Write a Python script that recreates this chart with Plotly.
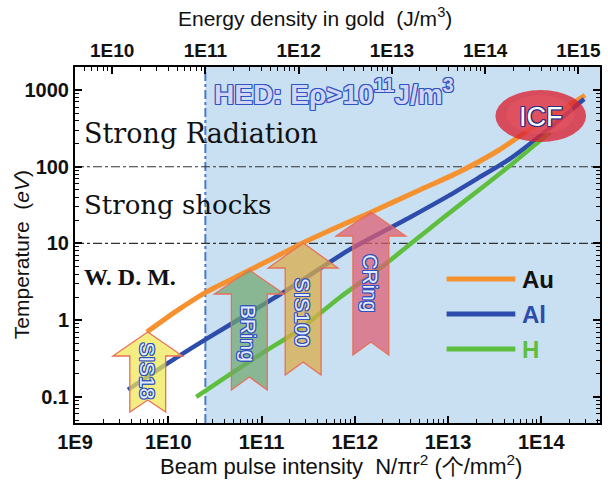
import plotly.graph_objects as go

# ---- data -------------------------------------------------------------
# beam pulse intensity N/(pi r^2) [particles/mm^2] vs. reachable temperature [eV]
au_intensity = [5.9e9, 1.23e10, 2.57e10, 5.8e10, 1.21e11, 2.73e11, 6.8e11, 1.42e12,
                4.9e12, 1.30e13, 3.5e13, 7.3e13, 1.52e14, 2.95e14]
au_temp = [0.70, 1.32, 2.34, 3.85, 6.05, 10.1, 16.8, 24.8, 49.4, 84.7, 164, 299, 513, 855]

al_intensity = [3.7e9, 1.04e10, 2.57e10, 7.4e10, 1.75e11, 8.7e11, 3.8e12, 1.01e13,
                2.12e13, 4.44e13, 7.8e13, 1.52e14, 2.88e14]
al_temp = [0.124, 0.286, 0.57, 1.24, 2.34, 8.24, 21.5, 41.7, 71.5, 123, 204, 395, 764]

h_intensity = [2.0e10, 4.5e10, 1.07e11, 2.54e11, 6.8e11, 1.95e12, 8.55e12, 2.52e13,
               5.0e13, 9.3e13, 1.25e14]
h_temp = [0.100, 0.194, 0.386, 0.748, 1.95, 4.95, 20.9, 57.9, 112, 210, 284]

series_names = ["Au", "Al", "H"]
series_colors = ["#f5922f", "#2e4cab", "#5dbf3d"]
label_colors = ["#111111", "#2e4cab", "#5dbf3d"]

x_tick_labels = ["1E9", "1E10", "1E11", "1E12", "1E13", "1E14"]
top_tick_labels = ["1E10", "1E11", "1E12", "1E13", "1E14", "1E15"]
y_tick_labels = ["0.1", "1", "10", "100", "1000"]

# energy deposited in gold per unit beam intensity, J/m^3 per (particles/mm^2)
ENERGY_PER_INTENSITY = 4.0
HED_THRESHOLD = 1e11          # J/m^3
REGIME_BOUNDS = [10, 100]     # eV

# ---- geometry ---------------------------------------------------------
W, H = 608, 483
L, R, T, B = 75, 6, 67, 60
PW, PH = W - L - R, H - T - B
X_RANGE = [9.0, 14.63]
Y_RANGE = [-1.34, 3.30]
OFFSET = 0.60206  # log10(ENERGY_PER_INTENSITY)


def px(x):
    return (x - L) / PW


def py(y):
    return (H - B - y) / PH


fig = go.Figure()

for xs, ys, name, col, lw in zip([au_intensity, al_intensity, h_intensity],
                                 [au_temp, al_temp, h_temp],
                                 series_names, series_colors, [5, 4.5, 4.5]):
    fig.add_trace(go.Scatter(x=xs, y=ys, name=name, mode="lines",
                             line=dict(color=col, width=lw, shape="spline", smoothing=0.6),
                             showlegend=False, hoverinfo="skip"))

shapes = []
thr = HED_THRESHOLD / ENERGY_PER_INTENSITY
# HED region
shapes.append(dict(type="rect", xref="x", yref="paper", x0=thr, x1=10 ** X_RANGE[1],
                   y0=0, y1=1, fillcolor="#c9dff2", line=dict(width=0), layer="below"))
shapes.append(dict(type="line", xref="x", yref="paper", x0=thr, x1=thr, y0=0, y1=1,
                   line=dict(color="#4a7cc4", width=2, dash="dashdot"), layer="below"))
for yb in REGIME_BOUNDS:
    shapes.append(dict(type="line", xref="paper", yref="y", x0=0, x1=1, y0=yb, y1=yb,
                       line=dict(color="#333333", width=1.2, dash="dashdot"), layer="below"))


def arrow_path(cx, tip, wing_y, bottom, notch, wing=35, shaft=18):
    pts = [(cx, tip), (cx + wing, wing_y), (cx + shaft, wing_y), (cx + shaft, bottom),
           (cx, notch), (cx - shaft, bottom), (cx - shaft, wing_y), (cx - wing, wing_y)]
    return "M " + " L ".join(f"{px(a):.4f},{py(b):.4f}" for a, b in pts) + " Z"


facilities = [
    # name, centre x, tip, wing, bottom, notch, fill, text centre y
    ("SIS18", 148, 332, 356, 412, 400, "rgba(238,232,80,0.72)", 371),
    ("BRing", 250, 270, 294, 390, 377, "rgba(112,168,110,0.72)", 333),
    ("SIS100", 304, 243, 268, 375, 362, "rgba(218,172,72,0.75)", 312),
    ("CRing", 372, 212, 236, 355, 342, "rgba(224,92,112,0.72)", 283),
]
for name, cx, tip, wy, bot, notch, fill, ty in facilities:
    shapes.append(dict(type="path", xref="paper", yref="paper",
                       path=arrow_path(cx, tip, wy, bot, notch),
                       fillcolor=fill, line=dict(color="#e8705a", width=1.3), layer="above"))

# ICF ellipse, translucent so the curves stay faintly visible through it
shapes.append(dict(type="circle", xref="paper", yref="paper", x0=px(497), x1=px(588),
                   y0=py(142), y1=py(90), fillcolor="rgba(218,34,50,0.78)",
                   line=dict(width=0), layer="above"))
shapes.append(dict(type="circle", xref="paper", yref="paper", x0=px(508), x1=px(576),
                   y0=py(134), y1=py(95), fillcolor="rgba(238,90,100,0.40)",
                   line=dict(width=0), layer="above"))

# legend samples
for i, (name, col) in enumerate(zip(series_names, series_colors)):
    yy = 279 + 35 * i
    shapes.append(dict(type="line", xref="paper", yref="paper", x0=px(448), x1=px(517),
                       y0=py(yy), y1=py(yy), line=dict(color=col, width=5), layer="above"))


def outline(c, w=1):
    return ", ".join(f"{dx}px {dy}px 0 {c}" for dx, dy in
                     [(-w, 0), (w, 0), (0, -w), (0, w), (-w, -w), (w, w), (-w, w), (w, -w)])


def note(text, x, y, font, xanchor="center", yanchor="middle", angle=0):
    return dict(text=text, x=px(x), y=py(y), xref="paper", yref="paper", showarrow=False,
                xanchor=xanchor, yanchor=yanchor, textangle=angle, font=font)


ann = []
for name, cx, tip, wy, bot, notch, fill, ty in facilities:
    ann.append(note(name, cx, ty, dict(family="Arial", size=21, color="#e4ecfb",
                                       shadow=outline("#2d4fbf")), angle=90))
ann.append(note("ICF", 543, 117, dict(family="Arial", size=27, color="#ffffff",
                                      shadow=outline("#2a2f8a"))))
ann.append(note("HED: E\u03c1>10<sup>11</sup>J/m<sup>3</sup>", 213, 92,
                dict(family="Arial", size=28, weight="bold", color="#d2d6f6",
                     shadow=outline("#2f55c4")), xanchor="left"))
serif = "DejaVu Serif"
ann.append(note("Strong Radiation", 82, 133, dict(family=serif, size=27, color="#111111"),
                xanchor="left"))
ann.append(note("Strong shocks", 82, 205, dict(family=serif, size=26, color="#111111"),
                xanchor="left"))
ann.append(note("W. D. M.", 82, 277, dict(family="Liberation Serif", size=24, weight="bold",
                                          color="#111111"), xanchor="left"))
for i, (name, col) in enumerate(zip(series_names, label_colors)):
    ann.append(note(name, 522, 279 + 35 * i,
                    dict(family="Arial", size=24, weight="bold", color=col), xanchor="left"))

# axis titles
ann.append(note("Energy density in gold  (J/m<sup>3</sup>)", 316, 17,
                dict(family="Arial", size=21, color="#111111")))
ann.append(note("Beam pulse intensity  N/\u03c0r<sup>2</sup> (\u4e2a/mm<sup>2</sup>)", 342, 465,
                dict(family="Arial", size=22, color="#111111")))
ann.append(note("Temperature  (<i>eV</i>)", 22, 255,
                dict(family="Arial", size=21, color="#111111"), angle=-90))


def minor_vals(lo, hi):
    return [m * 10.0 ** e for e in range(lo, hi) for m in range(2, 10)]


tick_font = dict(family="Arial", size=20, weight="bold", color="#111111")
axis_common = dict(type="log", showgrid=False, zeroline=False, showline=True,
                   linecolor="black", linewidth=2, ticks="inside", ticklen=7,
                   tickwidth=1.5, tickcolor="black", tickfont=tick_font)

fig.update_layout(
    width=W, height=H, margin=dict(l=L, r=R, t=T, b=B),
    paper_bgcolor="white", plot_bgcolor="white",
    xaxis=dict(range=X_RANGE, tickmode="array",
               tickvals=[10.0 ** e for e in range(9, 15)], ticktext=x_tick_labels,
               minor=dict(ticks="inside", ticklen=4, tickwidth=1, tickcolor="black",
                          tickmode="array", tickvals=minor_vals(9, 15)),
               **axis_common),
    xaxis2=dict(range=[X_RANGE[0] + OFFSET, X_RANGE[1] + OFFSET], overlaying="x",
                side="top", anchor="y", tickmode="array",
                tickvals=[10.0 ** e for e in range(10, 16)], ticktext=top_tick_labels,
                minor=dict(ticks="inside", ticklen=4, tickwidth=1, tickcolor="black",
                           tickmode="array", tickvals=minor_vals(9, 16)),
                **{**axis_common, "tickfont": dict(tick_font, size=19)}),
    yaxis=dict(range=Y_RANGE, tickmode="array",
               tickvals=[0.1, 1, 10, 100, 1000], ticktext=y_tick_labels, mirror="ticks",
               minor=dict(ticks="inside", ticklen=4, tickwidth=1, tickcolor="black",
                          tickmode="array", tickvals=minor_vals(-2, 4)),
               **axis_common),
    shapes=shapes, annotations=ann, showlegend=False,
)

# keep the top axis attached to a subplot
fig.add_trace(go.Scatter(x=[10 ** (X_RANGE[0] + OFFSET)], y=[None], xaxis="x2",
                         mode="lines", showlegend=False, hoverinfo="skip"))

fig.write_html("out.html")
